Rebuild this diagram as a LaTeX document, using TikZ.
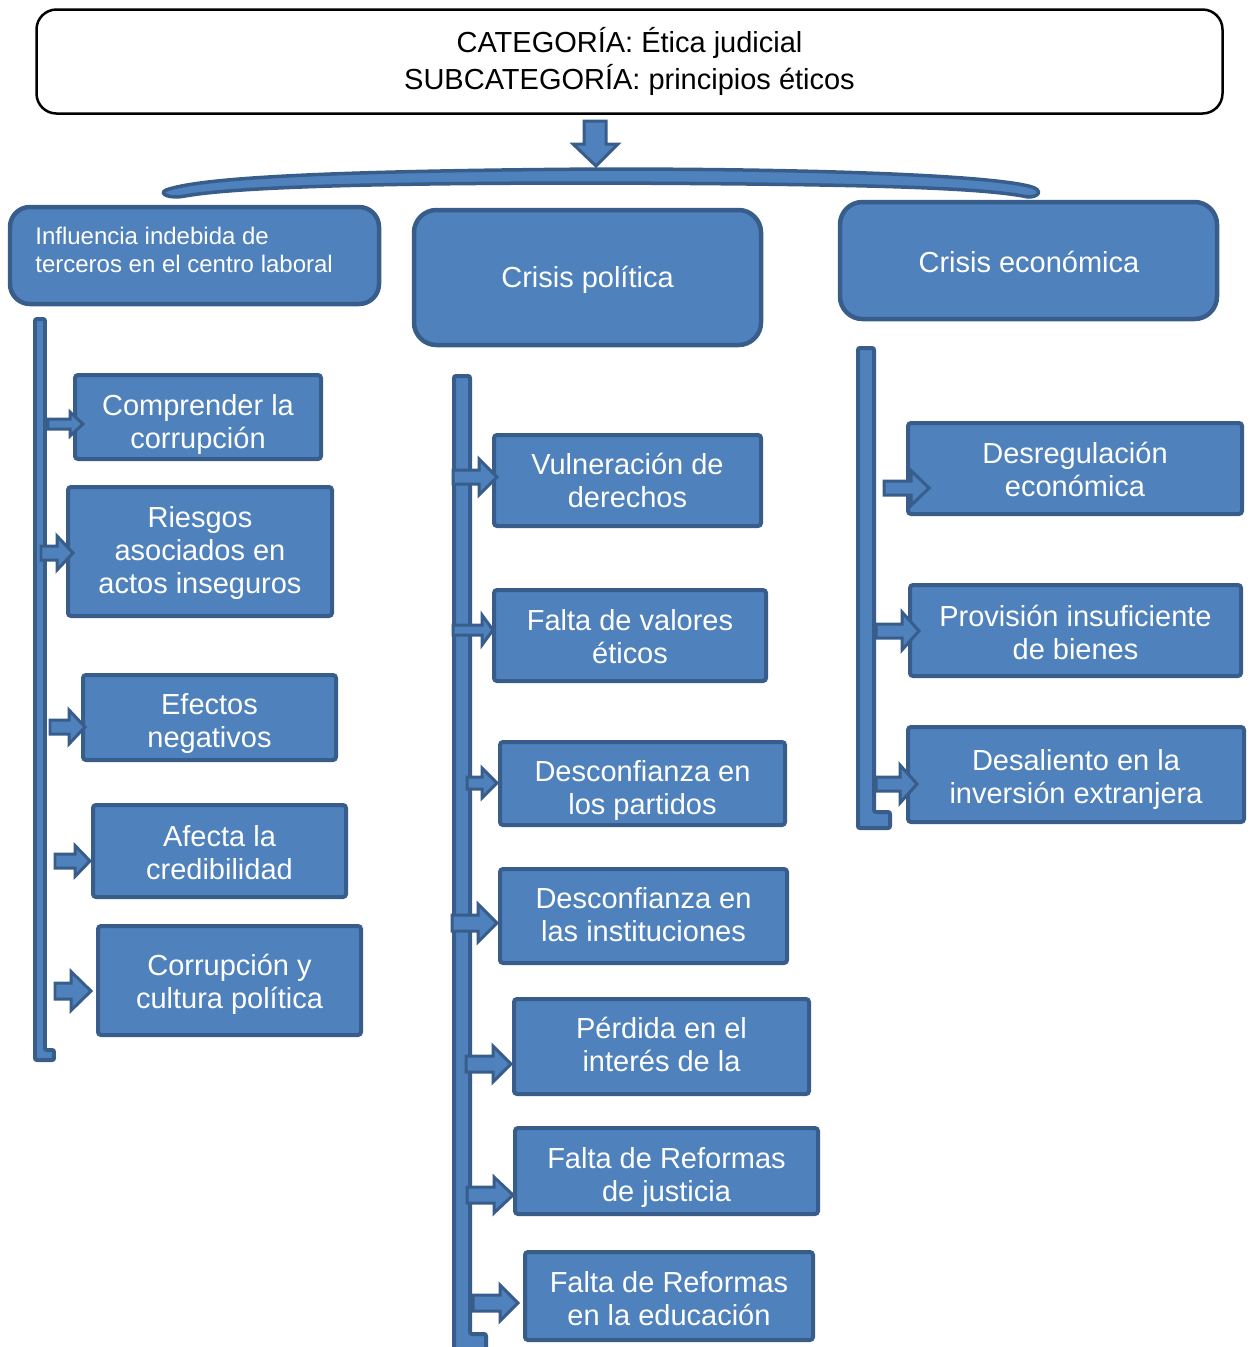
\documentclass[tikz,border=0pt]{standalone}
\usepackage{fontspec}
\setmainfont{Liberation Sans}
\definecolor{bF}{RGB}{79,129,189}
\definecolor{bD}{RGB}{56,93,138}
% name, cx, cy, w, h, text-centre y, text
\newcommand\bx[7]{\node[box, minimum width={#4*0.02cm}, minimum height={#5*0.02cm}] (#1) at (#2,#3) {};
  \node[boxtext] (#1t) at (#2,#6) {#7};}
\newcommand\barw[6]{\filldraw[arr] ({#1},{#4-#5}) -- ({#2},{#4-#5}) -- ({#2},{#4-#6}) -- ({#3},{#4}) -- ({#2},{#4+#6}) -- ({#2},{#4+#5}) -- ({#1},{#4+#5}) -- cycle;}
\begin{document}
\begin{tikzpicture}[x=0.02cm, y=-0.02cm,
  box/.style={draw=bD, fill=bF, line width=0.08cm, rounded corners=0.06cm, inner sep=0pt},
  boxtext/.style={text=white, align=center, inner sep=0pt,
    font=\fontsize{16.5pt}{18.8pt}\selectfont, execute at begin node=\strut, execute at end node=\strut},
  hdr/.style={draw=bD, fill=bF, line width=0.09cm, rounded corners=0.45cm, inner sep=0pt},
  arr/.style={fill=bF, draw=bD, line width=0.06cm, line join=miter},
  vbar/.style={fill=bF, draw=bD, line width=0.08cm, rounded corners=0.04cm}]
\path[use as bounding box] (0,0) rectangle (1251,1347);
\clip (0,0) rectangle (1251,1347);

% brace
\filldraw[fill=bF, draw=bD, line width=0.07cm]
  (166,190) .. controls (200,178) and (320,171) .. (600,169)
  .. controls (850,169) and (1000,177) .. (1032,187)
  .. controls (1042,190) and (1040,197) .. (1028,197)
  .. controls (980,187) and (850,184) .. (600,183)
  .. controls (350,183) and (230,188) .. (185,196)
  .. controls (170,199) and (158,194) .. (166,190) -- cycle;

% down arrow
\filldraw[arr] (584,121) -- (606,121) -- (606,144) -- (618,144) -- (596,166) -- (573,144) -- (584,144) -- cycle;

% top box
\node[draw=black, line width=0.05cm, rounded corners=0.4cm, minimum width={1186*0.02cm}, minimum height={104*0.02cm},
  inner sep=0pt] (top) at (629.5,61.5) {};
\node[align=center, inner sep=0pt, font=\fontsize{16.5pt}{21pt}\selectfont,
  execute at begin node=\strut, execute at end node=\strut] (topt) at (629.5,64)
  {CATEGORÍA: Ética judicial\\SUBCATEGORÍA: principios éticos};

% headers
\node[hdr, rounded corners=0.4cm, minimum width={369*0.02cm}, minimum height={97*0.02cm}] (h1) at (194.5,255.5) {};
\node[text=white, align=left, inner sep=0pt, anchor=west, font=\fontsize{13.66pt}{15.94pt}\selectfont,
  execute at begin node=\strut, execute at end node=\strut] (h1t) at (35,254)
  {Influencia indebida de\\terceros en el centro laboral};
\node[hdr, minimum width={347*0.02cm}, minimum height={135*0.02cm}] (h2) at (587.5,277.5) {};
\node[boxtext] (h2t) at (587.5,281) {Crisis política};
\node[hdr, minimum width={377*0.02cm}, minimum height={117*0.02cm}] (h3) at (1028.5,260.5) {};
\node[boxtext] (h3t) at (1029,266) {Crisis económica};

% vertical bars
\filldraw[vbar] (35,319) -- (45,319) -- (45,1050) -- (54,1050) -- (54,1060) -- (35,1060) -- cycle;
\filldraw[vbar] (454,376) -- (470,376) -- (470,1334) -- (486,1334) -- (486,1370) -- (454,1370) -- cycle;
\filldraw[vbar] (858,348) -- (874,348) -- (874,812) -- (890,812) -- (890,828) -- (858,828) -- cycle;

% left boxes
\bx{L1}{198}{417}{246}{84}{426}{Comprender la\\corrupción}
\bx{L2}{200}{551.5}{264}{129}{555}{Riesgos\\asociados en\\actos inseguros}
\bx{L3}{209.5}{717.5}{253}{85}{725.5}{Efectos\\negativos}
\bx{L4}{219.5}{851}{253}{92}{857}{Afecta la\\credibilidad}
\bx{L5}{229.5}{980.5}{263}{109}{986.5}{Corrupción y\\cultura política}

% middle boxes
\bx{M1}{627.5}{480.5}{267}{91}{485.5}{Vulneración de\\derechos}
\bx{M2}{630}{635.5}{272}{91}{641}{Falta de valores\\éticos}
\bx{M3}{642.5}{783.5}{285}{83}{792.5}{Desconfianza en\\los partidos}
\bx{M4}{643.5}{916}{287}{94}{919.5}{Desconfianza en\\las instituciones}
\bx{M5}{661.5}{1046.5}{295}{95}{1049.5}{Pérdida en el\\interés de la}
\bx{M6}{666.5}{1171}{303}{86}{1179.5}{Falta de Reformas\\de justicia}
\bx{M7}{669}{1296}{288}{88}{1303.5}{Falta de Reformas\\en la educación}

% right boxes
\bx{R1}{1075}{468.5}{334}{91}{474}{Desregulación\\económica}
\bx{R2}{1075.5}{630.5}{331}{91}{637}{Provisión insuficiente\\de bienes}
\bx{R3}{1076}{774.5}{336}{95}{781}{Desaliento en la\\inversión extranjera}

% arrows left
\barw{48}{70}{83}{424}{5}{12}
\barw{41}{57}{73}{553}{7}{17}
\barw{50}{69}{85}{727}{7}{17}
\barw{55}{75}{90}{861}{7}{15.5}
\barw{55}{71}{91}{991}{8}{19.5}
% arrows middle
\barw{453}{479}{497}{477}{7}{18}
\barw{453}{482}{493}{630}{5}{15}
\barw{467}{482}{497}{783}{6}{15}
\barw{452}{478}{497}{923}{8}{19}
\barw{466}{493}{511}{1064}{8}{18}
\barw{467}{494}{513}{1195}{8}{18}
\barw{473}{500}{518}{1303}{8}{18}
% arrows right
\barw{884}{911}{929}{488}{7}{17.5}
\barw{876}{902}{919}{631}{7}{19}
\barw{876}{900}{917}{784}{7}{19}
\end{tikzpicture}
\end{document}
